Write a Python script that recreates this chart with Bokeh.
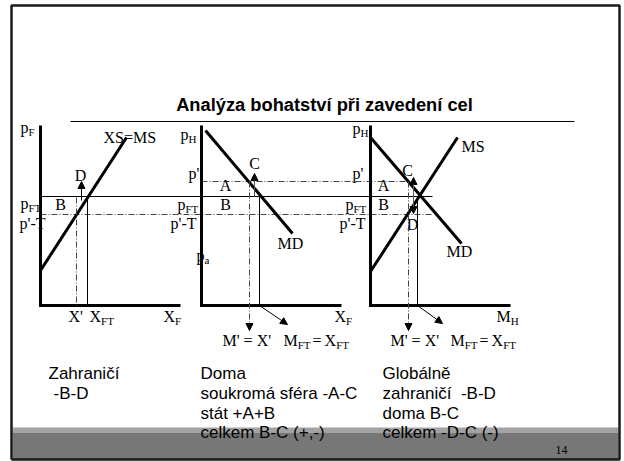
from bokeh.plotting import figure
from bokeh.models import Range1d, Arrow, NormalHead
from bokeh.core.properties import value
from bokeh.embed import file_html
from bokeh.resources import INLINE

# ---------------- data (price units above each quantity axis, quantity units right of each price axis)
p_prime = 124      # p'
p_FT = 109         # free-trade price
p_T = 91           # p' - T
axis_len_q = 140
axis_len_p = 180

# panel 1: foreign export supply XS = MS
xs_q = [0, 86]
xs_p = [35, 168]
f_x_prime = 36
f_x_ft = 47
f_arrow_q = 41
f_arrow_p = [105, 124]

# panel 2: home import demand MD
md2_q = [4, 91]
md2_p = [175, 72]
h_m_prime = 48
h_m_ft = 58
h_arrow_q = 53
h_arrow_p = [109, 132]

# panel 3: world market
md3_q = [0, 91]
md3_p = [168, 62]
ms3_q = [0, 87]
ms3_p = [34, 168]
w_m_prime = 38
w_m_ft = 47
w_arrow_q = 43
w_arrow_p = [128, 92]

title = "Analýza bohatství při zavedení cel"
col_foreign = ["Zahraničí", "-B-D"]
col_home = ["Doma", "soukromá sféra -A-C", "stát +A+B", "celkem B-C (+,-)"]
col_global = ["Globálně", "zahraničí\u00a0 -B-D", "doma B-C", "celkem -D-C (-)"]
page_no = "14"

# ---------------- layout
OX = [40, 201, 370]          # page x of each panel's price axis
Y0 = 305                     # page y of quantity axes


def py(y):
    return Y0 - y


p = figure(width=624, height=461, x_range=Range1d(0, 624), y_range=Range1d(py(461), py(0)),
           toolbar_location=None, output_backend="svg", x_axis_type=None, y_axis_type=None,
           min_border=0, outline_line_color=None)
p.grid.visible = False
p.background_fill_color = "white"
p.border_fill_color = "white"

SERIF = value("Liberation Serif")
SANS = value("Liberation Sans")

# gray footer band
p.quad(left=[12], right=[618], top=[py(427)], bottom=[py(432)], fill_color="#a3a3a3", line_color=None)
p.quad(left=[12], right=[618], top=[py(432)], bottom=[py(459)], fill_color="#777777", line_color=None)

# frame
p.line([11, 11, 619, 619, 11], [py(459), py(5), py(5), py(459), py(459)], line_color="#1a1a1a", line_width=2.5)

# title
p.text(x=[324], y=[py(104)], text=[title], text_font=SANS, text_font_size="18.3px", text_font_style="bold",
       text_align="center", text_baseline="middle", text_color="black")
p.line([70, 574], [py(121), py(121)], line_color="black", line_width=1.2)

DASH = "6 2 1 2"
DCOL = "#444444"

# horizontal price lines
p.line([OX[0], 432], [p_FT, p_FT], line_color="black", line_width=1)
p.line([OX[0], 432], [p_T, p_T], line_color=DCOL, line_width=1, line_dash=DASH)
p.line([OX[1], 410], [p_prime, p_prime], line_color=DCOL, line_width=1, line_dash=DASH)

# axes
for ox in OX:
    p.line([ox, ox, ox + axis_len_q], [axis_len_p, 0, 0], line_color="black", line_width=3, line_join="miter")

# curves
p.line([OX[0] + q for q in xs_q], xs_p, line_color="black", line_width=3)
p.line([OX[1] + q for q in md2_q], md2_p, line_color="black", line_width=3)
p.line([OX[2] + q for q in md3_q], md3_p, line_color="black", line_width=3)
p.line([OX[2] + q for q in ms3_q], ms3_p, line_color="black", line_width=3)

# panel 1 verticals
p.line([OX[0] + f_x_prime] * 2, [p_FT - 1, 0], line_color=DCOL, line_width=1, line_dash=DASH)
p.line([OX[0] + f_x_ft] * 2, [p_FT, 0], line_color="black", line_width=1)


def arrow(x0, y0, x1, y1, dash=None, start=False, color="black"):
    kw = dict(line_color=color, line_width=1)
    if dash:
        kw["line_dash"] = dash
    a = Arrow(x_start=x0, y_start=y0, x_end=x1, y_end=y1,
              end=NormalHead(size=7, fill_color="black", line_color="black", line_width=1),
              **kw)
    if start:
        a.start = NormalHead(size=7, fill_color="black", line_color="black", line_width=1)
    p.add_layout(a)


arrow(OX[0] + f_arrow_q, f_arrow_p[0], OX[0] + f_arrow_q, f_arrow_p[1])

# panel 2 verticals
arrow(OX[1] + h_m_prime, p_prime, OX[1] + h_m_prime, -25, dash=DASH, color=DCOL)
p.line([OX[1] + h_m_ft] * 2, [p_FT, 0], line_color="black", line_width=1)
arrow(OX[1] + h_arrow_q, h_arrow_p[0], OX[1] + h_arrow_q, h_arrow_p[1], color="#555555")
arrow(OX[1] + h_m_ft, 0, OX[1] + h_m_ft + 28, -19)

# panel 3 verticals
arrow(OX[2] + w_m_prime, p_prime, OX[2] + w_m_prime, -25, dash=DASH, color=DCOL)
p.line([OX[2] + w_m_ft] * 2, [p_FT, 0], line_color="black", line_width=1)
arrow(OX[2] + w_arrow_q, w_arrow_p[0], OX[2] + w_arrow_q, w_arrow_p[1], start=True, color="#555555")
arrow(OX[2] + w_m_ft, 0, OX[2] + w_m_ft + 25, -18)


# ---------------- labels
def lab(x, y, s, size=16, align="left", font=SERIF):
    p.text(x=[x], y=[py(y)], text=[s], text_font=font, text_font_size=f"{size}px",
           text_align=align, text_baseline="middle", text_color="black")


WID = {"p": 0.5, "X": 0.722, "M": 0.889, "F": 0.556, "T": 0.611, "H": 0.722, "a": 0.444,
       " ": 0.25, "=": 0.564, "'": 0.18}


def sublab(x, y, parts):
    # parts: list of (text, is_sub, gap_before_px)
    cx = x
    for s, is_sub, gap in parts:
        cx += gap
        size = 11 if is_sub else 16
        lab(cx, y + (4 if is_sub else 0), s, size=size)
        cx += sum(WID.get(c, 0.5) for c in s) * size


def eq_label(x, y):
    sublab(x, y, [("M", False, 0), ("FT", True, 0), ("=", False, 2), ("X", False, 3), ("FT", True, 0)])


# panel 1
sublab(20, 127, [("p", False, 0), ("F", True, 0)])
lab(103, 137, "XS=MS")
lab(80, 175, "D", align="center")
sublab(20, 203, [("p", False, 0), ("FT", True, 0)])
lab(60, 204, "B", align="center")
lab(19, 223, "p'-T")
lab(68, 316, "X'")
sublab(89, 316, [("X", False, 0), ("FT", True, 0)])
sublab(163, 316, [("X", False, 0), ("F", True, 0)])

# panel 2
sublab(180, 134, [("p", False, 0), ("H", True, 0)])
lab(188, 173, "p'")
lab(254, 163, "C", align="center")
lab(225, 185, "A", align="center")
lab(225, 204, "B", align="center")
sublab(177, 204, [("p", False, 0), ("FT", True, 0)])
lab(170, 223, "p'-T")
lab(277, 243, "MD")
sublab(196, 255, [("p", False, 0), ("a", True, 0)])
sublab(334, 316, [("X", False, 0), ("F", True, 0)])
lab(222, 340, "M' = X'")
eq_label(283, 340)

# panel 3
sublab(352, 128, [("p", False, 0), ("H", True, 0)])
lab(461, 146, "MS")
lab(352, 173, "p'")
lab(407, 170, "C", align="center")
lab(383, 185, "A", align="center")
lab(383, 204, "B", align="center")
sublab(345, 204, [("p", False, 0), ("FT", True, 0)])
lab(339, 223, "p'-T")
lab(412, 224, "D", align="center")
lab(446, 251, "MD")
sublab(496, 316, [("M", False, 0), ("H", True, 0)])
lab(390, 340, "M' = X'")
eq_label(450, 340)

# bottom text
rows = [373, 393, 413, 432]
for i, s in enumerate(col_foreign):
    lab(48 if i == 0 else 53, rows[i], s, size=17, font=SANS)
for i, s in enumerate(col_home):
    lab(200, rows[i], s, size=17, font=SANS)
for i, s in enumerate(col_global):
    lab(382, rows[i], s, size=17, font=SANS)

lab(561, 449, page_no, size=12, align="center")

open("out.html", "w").write(file_html(p, INLINE))
